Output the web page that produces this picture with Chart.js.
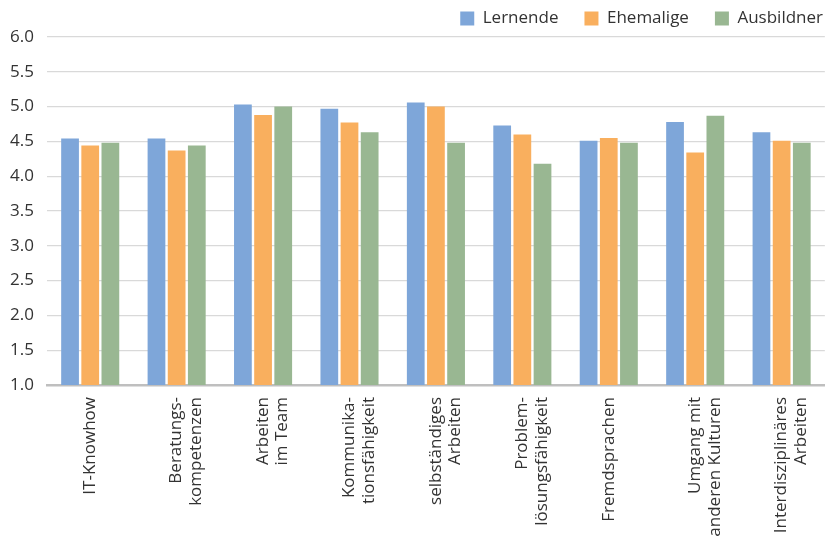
<!DOCTYPE html>
<html>
<head>
<meta charset="utf-8">
<script src="https://cdn.jsdelivr.net/npm/chart.js@4.4.1/dist/chart.umd.min.js"></script>
<style>
  html, body { margin: 0; padding: 0; background: #ffffff; }
  #wrap { width: 833px; height: 538px; position: relative; }
</style>
</head>
<body>
<div id="wrap"><canvas id="chart" width="833" height="538"></canvas></div>
<script>
// Competence categories (multi-line labels as arrays)
const categories = [
  ["IT-Knowhow"],
  ["Beratungs-", "kompetenzen"],
  ["Arbeiten", "im Team"],
  ["Kommunika-", "tionsfähigkeit"],
  ["selbständiges", "Arbeiten"],
  ["Problem-", "lösungsfähigkeit"],
  ["Fremdsprachen"],
  ["Umgang mit", "anderen Kulturen"],
  ["Interdisziplinäres", "Arbeiten"]
];

const seriesNames = ["Lernende", "Ehemalige", "Ausbildner"];

const lernende   = [4.54, 4.54, 5.03, 4.97, 5.06, 4.73, 4.51, 4.78, 4.63];
const ehemalige  = [4.44, 4.37, 4.88, 4.77, 5.00, 4.60, 4.55, 4.34, 4.51];
const ausbildner = [4.48, 4.44, 5.00, 4.63, 4.48, 4.18, 4.48, 4.87, 4.48];

const yTicks = [1.0, 1.5, 2.0, 2.5, 3.0, 3.5, 4.0, 4.5, 5.0, 5.5, 6.0];

const colors = ["#7EA6D9", "#F9AF5E", "#99B792"];
const FONT = "'Open Sans', 'DejaVu Sans', sans-serif";
const TEXT = "#333333";
const LEGEND_PAD = 26;

const datasets = [lernende, ehemalige, ausbildner].map((vals, i) => ({
  label: seriesNames[i],
  data: vals,
  backgroundColor: colors[i],
  borderWidth: 0,
  categoryPercentage: 0.7,
  barPercentage: 0.88
}));

// Fixed legend band height, and legend row pushed close to the right edge
const legendPlacement = {
  id: "legendPlacement",
  beforeInit(chart) {
    const legend = chart.legend;
    if (!legend) return;
    const fit = legend.fit;
    legend.fit = function () {
      fit.call(this);
      this.height = 53;
    };
  },
  afterLayout(chart) {
    const legend = chart.legend;
    if (!legend) return;
    legend.left += LEGEND_PAD - 5;
    legend.right += LEGEND_PAD - 5;
  }
};

new Chart(document.getElementById("chart"), {
  type: "bar",
  data: { labels: categories, datasets },
  plugins: [legendPlacement],
  options: {
    responsive: false,
    animation: false,
    layout: { padding: { left: 0, right: 5, top: -16, bottom: 0 } },
    plugins: {
      tooltip: { enabled: false },
      legend: {
        position: "top",
        align: "end",
        labels: {
          boxWidth: 14,
          boxHeight: 14,
          padding: LEGEND_PAD,
          color: TEXT,
          font: { family: FONT, size: 17 }
        }
      }
    },
    scales: {
      x: {
        grid: { display: false, drawTicks: false },
        border: { display: true, color: "#BFBFBF", width: 2.5 },
        ticks: {
          color: TEXT,
          font: { family: FONT, size: 17, lineHeight: 1.15 },
          minRotation: 90,
          maxRotation: 90,
          autoSkip: false,
          padding: 12
        },
        afterFit(scale) { scale.height = 153; }
      },
      y: {
        min: 1,
        max: 6,
        afterBuildTicks(scale) { scale.ticks = yTicks.map(v => ({ value: v })); },
        grid: { color: "#D9D9D9", lineWidth: 1.3, drawTicks: false },
        border: { display: false },
        ticks: {
          color: TEXT,
          font: { family: FONT, size: 17 },
          padding: 13,
          callback: v => Number(v).toFixed(1)
        },
        afterFit(scale) { scale.width = 47; }
      }
    }
  }
});
</script>
</body>
</html>
